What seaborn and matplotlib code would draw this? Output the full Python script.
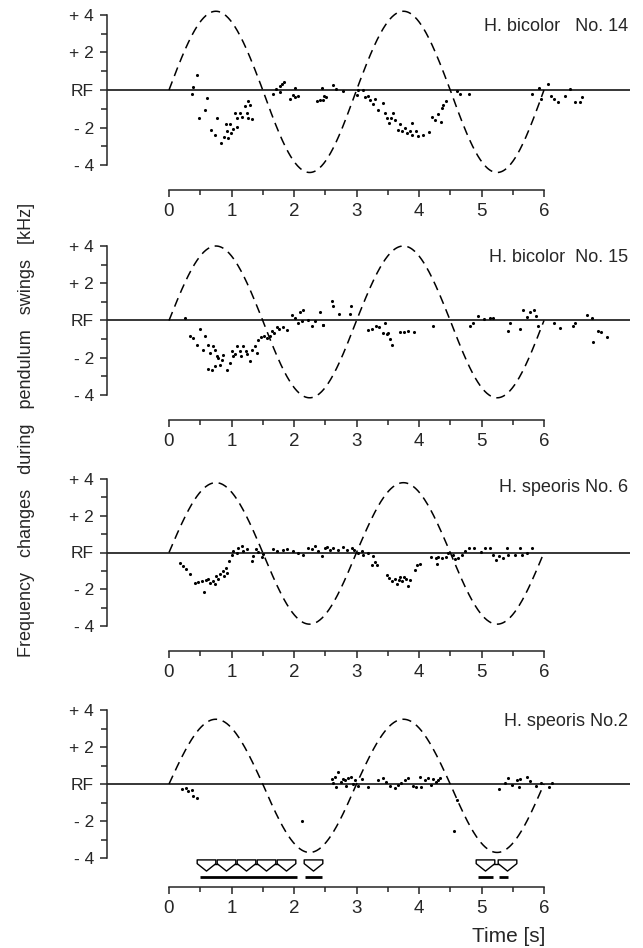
import numpy as np
import seaborn as sns
import matplotlib
matplotlib.use("Agg")
import matplotlib.pyplot as plt
from matplotlib.path import Path


titles = ["H. bicolor   No. 14", "H. bicolor  No. 15", "H. speoris No. 6", "H. speoris No.2"]
amp_up = [4.2, 4.0, 3.8, 3.5]
amp_down = [4.4, 4.15, 3.9, 3.7]
period = 3.0

t14 = [0.38, 0.36, 0.44, 0.48, 0.58, 0.61, 0.67, 0.74, 0.77, 0.83, 0.88, 0.91, 0.92, 0.95,
       0.98, 0.99, 1.03, 1.05, 1.08, 1.09, 1.13, 1.16, 1.21, 1.25, 1.27, 1.27, 1.30, 1.32,
       1.67, 1.71, 1.77, 1.78, 1.80, 1.84, 1.93, 1.98, 2.02, 2.02, 2.07, 2.36, 2.42, 2.44,
       2.47, 2.48, 2.51, 2.62, 2.67, 2.79, 3.00, 3.02, 3.10, 3.13, 3.18, 3.21, 3.26, 3.29,
       3.34, 3.42, 3.46, 3.48, 3.52, 3.55, 3.58, 3.61, 3.66, 3.69, 3.73, 3.77, 3.80, 3.85,
       3.88, 3.89, 3.95, 3.99, 4.06, 4.16, 4.21, 4.26, 4.31, 4.35, 4.37, 4.39, 4.43, 4.60,
       4.65, 4.80, 5.81, 5.92, 5.95, 6.07, 6.11, 6.16, 6.22, 6.33, 6.42, 6.49, 6.57, 6.61]
f14 = [0.16, -0.2, 0.79, -1.5, -1.09, -0.41, -2.15, -2.4, -1.5, -2.8, -2.5, -1.8, -2.2, -2.55,
       -1.8, -2.3, -2.1, -1.2, -1.95, -1.48, -1.25, -1.45, -0.85, -1.2, -0.6, -1.48, -0.8, -1.52,
       -0.2, 0.07, 0.2, -0.1, 0.3, 0.43, -0.46, -0.29, 0.12, -0.37, -0.34, -0.59, -0.52, 0.12,
       -0.55, -0.32, -0.37, 0.25, 0.07, -0.07, -0.29, 0.02, 0.0, -0.37, -0.34, -0.55, -0.73, -0.46,
       -1.05, -0.7, -1.2, -1.48, -1.75, -1.48, -1.2, -1.62, -2.12, -1.8, -2.2, -2.02, -2.3, -2.18,
       -1.75, -2.4, -2.18, -2.45, -2.4, -2.26, -1.45, -1.58, -1.3, -1.72, -0.97, -0.79, -0.56, -0.07,
       -0.2, -0.2, -0.2, 0.12, -0.46, 0.3, -0.34, -0.46, -0.64, -0.34, 0.07, -0.64, -0.64, -0.37]

t15 = [0.26, 0.33, 0.38, 0.44, 0.50, 0.55, 0.58, 0.63, 0.63, 0.66, 0.68, 0.70, 0.74, 0.74,
       0.76, 0.79, 0.82, 0.84, 0.87, 0.92, 0.97, 1.00, 1.03, 1.06, 1.09, 1.13, 1.15, 1.19,
       1.23, 1.25, 1.29, 1.32, 1.38, 1.41, 1.43, 1.47, 1.52, 1.56, 1.61, 1.64, 1.68, 1.73,
       1.76, 1.82, 1.88, 1.97, 2.02, 2.07, 2.09, 2.12, 2.15, 2.23, 2.28, 2.34, 2.41, 2.46,
       2.47, 2.61, 2.63, 2.72, 2.89, 2.91, 3.18, 3.24, 3.31, 3.36, 3.43, 3.45, 3.48, 3.51,
       3.53, 3.56, 3.69, 3.76, 3.83, 3.92, 4.22, 4.81, 4.87, 4.95, 5.04, 5.13, 5.19, 5.43,
       5.45, 5.61, 5.66, 5.72, 5.77, 5.84, 5.87, 5.90, 6.16, 6.25, 6.46, 6.49, 6.68, 6.76,
       6.79, 6.87, 6.91, 7.00]
f15 = [0.13, -0.82, -0.95, -1.3, -0.46, -1.6, -0.82, -1.3, -2.6, -1.75, -2.64, -1.39, -1.6, -2.46,
       -1.93, -2.02, -2.38, -2.1, -1.84, -2.64, -2.29, -1.66, -1.93, -1.79, -1.39, -1.66, -1.89, -1.39,
       -1.66, -1.79, -2.2, -1.57, -1.36, -1.75, -1.04, -0.86, -0.82, -0.95, -0.82, -0.59, -0.68, -0.36,
       -0.46, -0.36, -0.5, 0.3, 0.13, -0.14, 0.43, -0.05, 0.54, 0.04, -0.32, -0.05, 0.43, -0.23,
       -0.23, 1.07, 0.77, 0.36, 0.36, 0.8, -0.5, -0.45, -0.3, -0.36, -0.66, -0.13, -0.71, -0.66,
       -0.98, -1.3, -0.63, -0.63, -0.54, -0.63, -0.3, -0.27, -0.13, 0.23, 0.09, 0.13, 0.13, -0.54,
       -0.13, -0.45, 0.59, 0.18, 0.45, 0.59, 0.23, -0.3, -0.13, -0.41, -0.3, -0.13, 0.3, 0.13,
       -1.16, -0.54, -0.63, -0.89]

t6 = [0.18, 0.23, 0.27, 0.34, 0.42, 0.47, 0.52, 0.56, 0.59, 0.63, 0.66, 0.71, 0.74, 0.75,
      0.79, 0.82, 0.86, 0.88, 0.91, 0.93, 0.96, 1.00, 1.03, 1.08, 1.11, 1.16, 1.19, 1.25,
      1.32, 1.35, 1.39, 1.43, 1.48, 1.51, 1.67, 1.73, 1.82, 1.89, 1.99, 2.07, 2.14, 2.23,
      2.28, 2.34, 2.39, 2.44, 2.50, 2.52, 2.57, 2.63, 2.71, 2.78, 2.85, 2.92, 2.96, 3.02,
      3.08, 3.11, 3.19, 3.25, 3.27, 3.29, 3.33, 3.49, 3.52, 3.57, 3.61, 3.65, 3.68, 3.70,
      3.73, 3.76, 3.79, 3.83, 3.85, 3.94, 3.96, 4.01, 4.19, 4.27, 4.29, 4.31, 4.37, 4.43,
      4.47, 4.55, 4.58, 4.63, 4.69, 4.74, 4.80, 4.88, 4.99, 5.05, 5.13, 5.18, 5.23, 5.28,
      5.34, 5.41, 5.42, 5.53, 5.61, 5.65, 5.73, 5.81]
f6 = [-0.55, -0.73, -0.91, -1.18, -1.64, -1.6, -1.55, -2.15, -1.49, -1.42, -1.64, -1.55, -1.73, -1.27,
      -1.45, -1.18, -1.0, -1.27, -0.82, -1.09, -0.45, -0.15, 0.09, -0.04, 0.22, 0.33, 0.09, 0.18,
      -0.45, -0.18, 0.18, 0.04, -0.27, -0.09, 0.18, 0.09, 0.15, 0.18, 0.09, 0.0, -0.15, 0.27,
      0.18, 0.36, 0.09, -0.18, 0.27, 0.31, 0.13, 0.22, 0.13, 0.31, 0.13, 0.22, 0.13, 0.0,
      0.07, -0.11, -0.05, -0.69, -0.18, -0.51, -0.69, -1.2, -1.38, -1.56, -1.42, -1.69, -1.51, -1.33,
      -1.56, -1.33, -1.42, -1.82, -1.51, -0.96, -0.69, -0.6, -0.24, -0.29, -0.6, -0.24, -0.29, -0.24,
      -0.05, -0.15, -0.33, -0.29, -0.11, 0.07, 0.22, 0.25, 0.04, 0.22, 0.25, -0.11, -0.42, -0.18,
      -0.29, 0.22, -0.11, -0.15, 0.22, -0.11, 0.0, 0.25]

t2 = [0.20, 0.27, 0.31, 0.36, 0.39, 0.45, 2.12, 2.60, 2.63, 2.65, 2.67, 2.71, 2.75, 2.78,
      2.81, 2.83, 2.87, 2.91, 2.94, 2.98, 3.02, 3.08, 3.18, 3.34, 3.42, 3.47, 3.53, 3.62,
      3.66, 3.71, 3.78, 3.82, 3.90, 3.95, 4.01, 4.03, 4.09, 4.14, 4.19, 4.23, 4.27, 4.31,
      4.34, 4.56, 4.60, 5.28, 5.37, 5.43, 5.49, 5.56, 5.60, 5.61, 5.73, 5.77, 5.87, 5.95,
      6.08, 6.12]
f2 = [-0.27, -0.22, -0.4, -0.32, -0.63, -0.76, -2.02, 0.25, 0.04, 0.4, -0.18, 0.67, 0.13, 0.25,
      0.22, -0.11, 0.31, 0.4, 0.0, 0.22, -0.11, 0.25, -0.18, 0.22, 0.31, 0.13, -0.11, -0.24,
      -0.05, 0.04, 0.22, 0.31, -0.11, -0.15, 0.36, -0.18, 0.22, 0.31, -0.05, 0.25, 0.13, 0.22,
      0.31, -2.53, -0.87, -0.29, 0.04, 0.31, -0.05, 0.22, -0.18, 0.25, 0.4, 0.18, -0.11, 0.04,
      -0.18, 0.07]

times = [t14, t15, t6, t2]
freqs = [f14, f15, f6, f2]

# echolocation marks under the last panel
arrow_t = [0.59, 0.91, 1.23, 1.55, 1.87, 2.30, 5.05, 5.40]
link_start = [0.59, 5.05]
link_end = [1.87, 5.40]
bar_start = [0.50, 2.18, 4.95, 5.28]
bar_end = [2.04, 2.44, 5.19, 5.42]

sns.set_theme(style="ticks")
plt.rcParams["font.family"] = ["Liberation Sans", "DejaVu Sans"]
plt.rcParams["axes.linewidth"] = 1.1

W, H = 643, 948
fig = plt.figure(figsize=(W / 100, H / 100), dpi=100)

# pixel layout of each panel
left_px, right_px = 107, 630
x0_px, unit_px = 169, 62.5
top4_px = [15, 246, 479, 710]
bot4_px = [165, 395, 626, 858]
spine_px = [190, 420, 651, 887]

arrow_marker = Path([(-1, 0.6), (1, 0.6), (1, 0.2), (0, -0.6), (-1, 0.2), (-1, 0.6)],
                    [Path.MOVETO, Path.LINETO, Path.LINETO, Path.LINETO, Path.LINETO, Path.CLOSEPOLY])

tt = np.linspace(0, 6, 500)
for i in range(4):
    sc = (bot4_px[i] - top4_px[i]) / 8.0
    ax_top = top4_px[i] - 12
    ax = fig.add_axes([left_px / W, 1 - spine_px[i] / H, (right_px - left_px) / W,
                       (spine_px[i] - ax_top) / H])
    ax.set_xlim((left_px - x0_px) / unit_px, (right_px - x0_px) / unit_px)
    ax.set_ylim(-4 - (spine_px[i] - bot4_px[i]) / sc, 4 + 12 / sc)

    ax.axhline(0, color="black", lw=1.1, zorder=1)

    s = np.sin(2 * np.pi * tt / period)
    swing = np.where(s > 0, amp_up[i] * s, amp_down[i] * s)
    sns.lineplot(x=tt, y=swing, ax=ax, color="black", lw=1.1, linestyle=(0, (6, 3.8)),
                 estimator=None, sort=False, zorder=2)

    sns.scatterplot(x=times[i], y=freqs[i], ax=ax, color="black", s=5, linewidth=0, zorder=3)

    ax.text(7.34, 3.55 if i == 2 else 3.4, titles[i], ha="right", va="center", fontsize=13)

    for side in ["top", "right"]:
        ax.spines[side].set_visible(False)
    ax.spines["left"].set_bounds(-4, 4)
    ax.spines["bottom"].set_bounds(0, 6)

    ax.set_yticks([-4, -2, 0, 2, 4])
    ax.set_yticklabels(["- 4", "- 2", "RF", "+ 2", "+ 4"])
    ax.set_yticks([-3, -1, 1, 3], minor=True)
    ax.set_xticks(range(7))
    ax.set_xticks(np.arange(0.5, 6, 1.0), minor=True)
    ax.tick_params(axis="y", which="major", length=5, width=1.1, labelsize=12.5, pad=4.5)
    ax.tick_params(axis="y", which="minor", length=4, width=1.1)
    ax.tick_params(axis="x", which="major", length=5, width=1.1, labelsize=13.5, pad=4.5)
    ax.tick_params(axis="x", which="minor", length=3.5, width=1.1)
    ax.set_xlabel("")
    ax.set_ylabel("")
    ax.set_facecolor("none")

    if i == 3:
        ax.hlines([-4.3] * len(link_start), link_start, link_end, color="black", lw=1.0, zorder=3)
        sns.scatterplot(x=arrow_t, y=[-4.38] * len(arrow_t), ax=ax, marker=arrow_marker,
                        s=180, color="white", edgecolor="black", linewidth=1.0, zorder=4)
        ax.hlines([-5.03] * len(bar_start), bar_start, bar_end, color="black", lw=2.0, zorder=3)

fig.text(27 / W, 1 - 430 / H, "Frequency   changes   during   pendulum   swings   [kHz]",
         rotation=90, ha="center", va="center", fontsize=13)
fig.text(509 / W, 1 - 937 / H, "Time [s]", ha="center", va="center", fontsize=15)

fig.savefig("out.png", dpi=100, facecolor="white")
